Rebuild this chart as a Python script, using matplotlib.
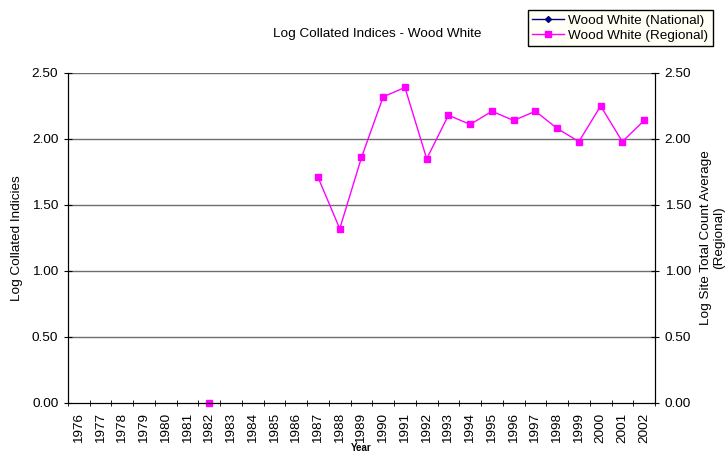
import matplotlib.pyplot as plt
import numpy as np

plt.rcParams['font.family'] = ['Liberation Sans', 'DejaVu Sans']

years = [str(y) for y in range(1976, 2003)]
reg_years = ['1982', '1987', '1988', '1989', '1990', '1991', '1992', '1993', '1994',
             '1995', '1996', '1997', '1998', '1999', '2000', '2001', '2002']
reg_vals = [0.00, 1.71, 1.32, 1.86, 2.32, 2.39, 1.85, 2.18, 2.11,
            2.21, 2.14, 2.21, 2.08, 1.98, 2.25, 1.98, 2.14]
yticks = [0.0, 0.5, 1.0, 1.5, 2.0, 2.5]

x = np.arange(len(years))
pos = {y: i for i, y in enumerate(years)}
rx = [pos[y] for y in reg_years]

fig = plt.figure(figsize=(7.28, 4.53), dpi=100)
ax = fig.add_axes([0.0934, 0.1104, 0.8063, 0.7285])

# 1982 stands alone, the rest is joined
ax.plot(rx[1:], reg_vals[1:], color='#FF00FF', lw=1, marker='s', ms=5, zorder=3)
ax.plot(rx[:1], reg_vals[:1], color='#FF00FF', lw=0, marker='s', ms=5, zorder=3, clip_on=False)

fs = 9.7
ax.set_xlim(-0.5, len(years) - 0.5)
ax.set_ylim(0, 2.5)
ax.set_yticks(yticks)
ax.set_yticklabels(['%.2f' % v for v in yticks], fontsize=fs)
ax.set_xticks(x)
ax.set_xticklabels(years, rotation=90, fontsize=fs)
ax.tick_params(axis='x', which='major', length=0, pad=7)
ax.set_xticks(np.arange(-0.5, len(years), 1), minor=True)
ax.tick_params(axis='x', which='minor', length=5, direction='inout')
ax.tick_params(axis='y', length=6, direction='inout', pad=4)
for v in yticks[1:]:
    ax.axhline(v, color='#6E6E6E', lw=1, zorder=1)
ax.spines['top'].set_visible(False)
ax.set_ylabel('Log Collated Indicies', fontsize=fs, labelpad=6)
ax.set_xlabel('Year', fontsize=7, fontweight='bold', labelpad=0)

ax2 = ax.twinx()
ax2.set_ylim(0, 2.5)
ax2.set_yticks(yticks)
ax2.set_yticklabels(['%.2f' % v for v in yticks], fontsize=fs)
ax2.tick_params(axis='y', length=6, direction='inout', pad=4)
ax2.spines['top'].set_visible(False)
ax2.set_ylabel('Log Site Total Count Average\n(Regional)', fontsize=fs, labelpad=6)

fig.text(0.518, 0.925, 'Log Collated Indices - Wood White', ha='center', va='center', fontsize=fs)

h1, = ax.plot([], [], color='#000080', marker='D', ms=3, lw=1)
h2, = ax.plot([], [], color='#FF00FF', marker='s', ms=4, lw=1)
leg = fig.legend([h1, h2], ['Wood White (National)', 'Wood White (Regional)'],
                 loc='upper right', bbox_to_anchor=(0.988, 0.992), fontsize=fs,
                 fancybox=False, framealpha=1, edgecolor='black', borderpad=0.3,
                 labelspacing=0.2, handlelength=2.4, handletextpad=0.3)
leg.get_frame().set_facecolor('#FFFFF5')

fig.savefig('out.png', dpi=100)
